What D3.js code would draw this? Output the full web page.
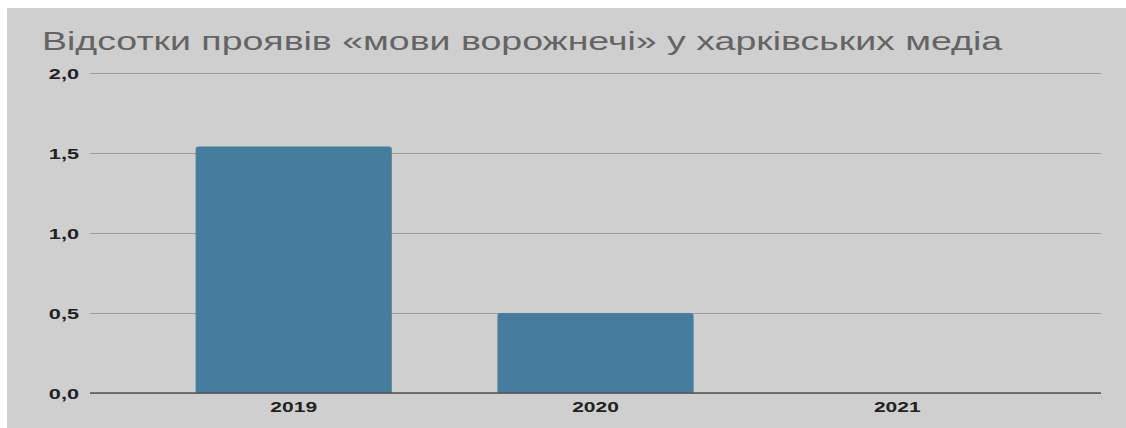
<!DOCTYPE html>
<html>
<head>
<meta charset="utf-8">
<script src="https://cdn.jsdelivr.net/npm/d3@7"></script>
<style>
  html, body { margin: 0; padding: 0; background: #ffffff; }
  svg { display: block; }
</style>
</head>
<body>
<svg id="chart" width="1126" height="428"></svg>
<script>
// Chart data
const categories = ["2019", "2020", "2021"];
const values = [1.54, 0.5, 0];
const yTicks = [0, 0.5, 1.0, 1.5, 2.0];
const titleText = "Відсотки проявів «мови ворожнечі» у харківських медіа";

const W = 1126, H = 428;
const svg = d3.select("#chart");
const fontFamily = "'Liberation Sans', Arial, Helvetica, sans-serif";
// Text in this layout is drawn horizontally widened
const titleSx = 1.5, yLabelSx = 1.55, xLabelSx = 1.4;

// Panel background
svg.append("rect")
  .attr("x", 7).attr("y", 8)
  .attr("width", W - 7).attr("height", H - 8)
  .attr("fill", "#cfcfcf");

const plot = { left: 90, right: 1101, top: 73, bottom: 393 };

const x = d3.scaleBand()
  .domain(categories)
  .range([plot.left, plot.right])
  .paddingInner(0.35)
  .paddingOuter(0.35);

const y = d3.scaleLinear()
  .domain([0, 2])
  .range([plot.bottom, plot.top]);

const fmt = v => d3.format(".1f")(v).replace(".", ",");

// Title
svg.append("text")
  .attr("transform", `translate(42,50) scale(${titleSx},1)`)
  .attr("font-family", fontFamily)
  .attr("font-size", 25)
  .attr("fill", "#646464")
  .text(titleText);

// Gridlines and y labels
const yAxis = d3.axisLeft(y)
  .tickValues(yTicks)
  .tickSize(-(plot.right - plot.left))
  .tickFormat(fmt);

const gy = svg.append("g")
  .attr("transform", `translate(${plot.left},0)`)
  .call(yAxis);
gy.select(".domain").remove();
gy.selectAll(".tick line")
  .attr("stroke", "#9c9c9c")
  .attr("stroke-width", 1);
gy.selectAll(".tick text")
  .attr("font-family", fontFamily)
  .attr("font-size", 14)
  .attr("font-weight", "bold")
  .attr("fill", "#222")
  .attr("x", -11 / yLabelSx)
  .attr("dy", "0.36em")
  .attr("transform", `scale(${yLabelSx},1)`);

// Bars with rounded top corners
const r = 3;
function barPath(d, i) {
  const x0 = x(categories[i]);
  const w = x.bandwidth();
  const yTop = y(d);
  const yBase = y(0);
  const h = yBase - yTop;
  if (h <= 0) return "";
  const rr = Math.min(r, h);
  return `M${x0},${yBase}V${yTop + rr}Q${x0},${yTop} ${x0 + rr},${yTop}` +
         `H${x0 + w - rr}Q${x0 + w},${yTop} ${x0 + w},${yTop + rr}V${yBase}Z`;
}
svg.append("g")
  .selectAll("path")
  .data(values)
  .join("path")
  .attr("d", barPath)
  .attr("fill", "#467c9c");

// X axis baseline and labels
const xAxis = d3.axisBottom(x).tickSize(0);
const gx = svg.append("g")
  .attr("transform", `translate(0,${plot.bottom})`)
  .call(xAxis);
gx.select(".domain").remove();
gx.append("line")
  .attr("x1", plot.left).attr("x2", plot.right)
  .attr("y1", 0).attr("y2", 0)
  .attr("stroke", "#555")
  .attr("stroke-width", 1.5);
gx.selectAll(".tick text")
  .attr("font-family", fontFamily)
  .attr("font-size", 15)
  .attr("font-weight", "bold")
  .attr("fill", "#222")
  .attr("y", 19)
  .attr("dy", 0)
  .attr("transform", `scale(${xLabelSx},1)`);
</script>
</body>
</html>
